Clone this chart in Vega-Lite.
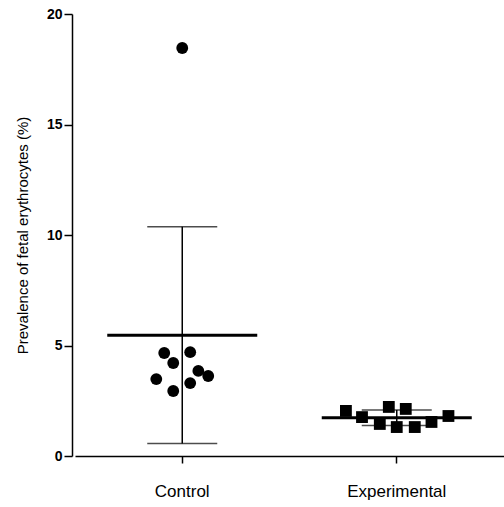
{
  "$schema": "https://vega.github.io/schema/vega-lite/v6.json",
  "width": 429,
  "height": 442,
  "autosize": "none",
  "padding": {"left": 75, "top": 14, "right": 0, "bottom": 51},
  "background": "white",
  "config": {"view": {"stroke": null}, "font": "Liberation Sans"},
  "data": {"values": [
    {"group": "Control", "value": 4.66, "jitter": -0.084},
    {"group": "Control", "value": 4.21, "jitter": -0.042},
    {"group": "Control", "value": 4.70, "jitter": 0.037},
    {"group": "Control", "value": 3.48, "jitter": -0.121},
    {"group": "Control", "value": 3.85, "jitter": 0.075},
    {"group": "Control", "value": 3.62, "jitter": 0.121},
    {"group": "Control", "value": 3.30, "jitter": 0.037},
    {"group": "Control", "value": 2.94, "jitter": -0.042},
    {"group": "Control", "value": 18.46, "jitter": 0.0},
    {"group": "Experimental", "value": 2.04, "jitter": -0.237},
    {"group": "Experimental", "value": 1.76, "jitter": -0.162},
    {"group": "Experimental", "value": 1.45, "jitter": -0.079},
    {"group": "Experimental", "value": 2.22, "jitter": -0.037},
    {"group": "Experimental", "value": 1.31, "jitter": 0.0},
    {"group": "Experimental", "value": 2.13, "jitter": 0.042},
    {"group": "Experimental", "value": 1.31, "jitter": 0.084},
    {"group": "Experimental", "value": 1.54, "jitter": 0.162},
    {"group": "Experimental", "value": 1.81, "jitter": 0.241}
  ]},
  "encoding": {
    "x": {
      "field": "group", "type": "nominal",
      "scale": {"type": "band", "paddingInner": 0, "paddingOuter": 0},
      "axis": {"title": null, "labelAngle": 0, "labelFontSize": 17, "labelColor": "black", "labelPadding": 20, "domainColor": "black", "domainWidth": 1.5, "tickColor": "black", "tickSize": 7, "tickWidth": 1.5, "labelFont": "Liberation Sans"}
    }
  },
  "layer": [
    {
      "mark": {"type": "errorbar", "extent": "stdev", "color": "black", "thickness": 1.5, "ticks": {"size": 70, "thickness": 1.5, "color": "black"}},
      "encoding": {
        "y": {"field": "value", "type": "quantitative", "scale": {"domain": [0, 20]},
          "axis": {"values": [0, 5, 10, 15, 20], "title": "Prevalence of fetal erythrocytes (%)", "titleFontSize": 15, "titleFontWeight": "normal", "titleColor": "black", "titlePadding": 16, "labelFontSize": 14, "labelFontWeight": "bold", "labelColor": "black", "labelPadding": 2, "grid": false, "offset": 3, "domainColor": "black", "domainWidth": 1.5, "tickColor": "black", "tickSize": 8, "tickWidth": 1.5}}
      }
    },
    {
      "mark": {"type": "tick", "size": 150, "thickness": 3, "color": "black", "orient": "horizontal"},
      "encoding": {"y": {"aggregate": "mean", "field": "value", "type": "quantitative"}}
    },
    {
      "mark": {"type": "point", "filled": true, "opacity": 1, "size": 140, "color": "black"},
      "encoding": {
        "y": {"field": "value", "type": "quantitative"},
        "xOffset": {"field": "jitter", "type": "quantitative", "scale": {"domain": [-0.5, 0.5]}},
        "shape": {"field": "group", "type": "nominal", "scale": {"domain": ["Control", "Experimental"], "range": ["circle", "square"]}, "legend": null}
      }
    }
  ]
}
